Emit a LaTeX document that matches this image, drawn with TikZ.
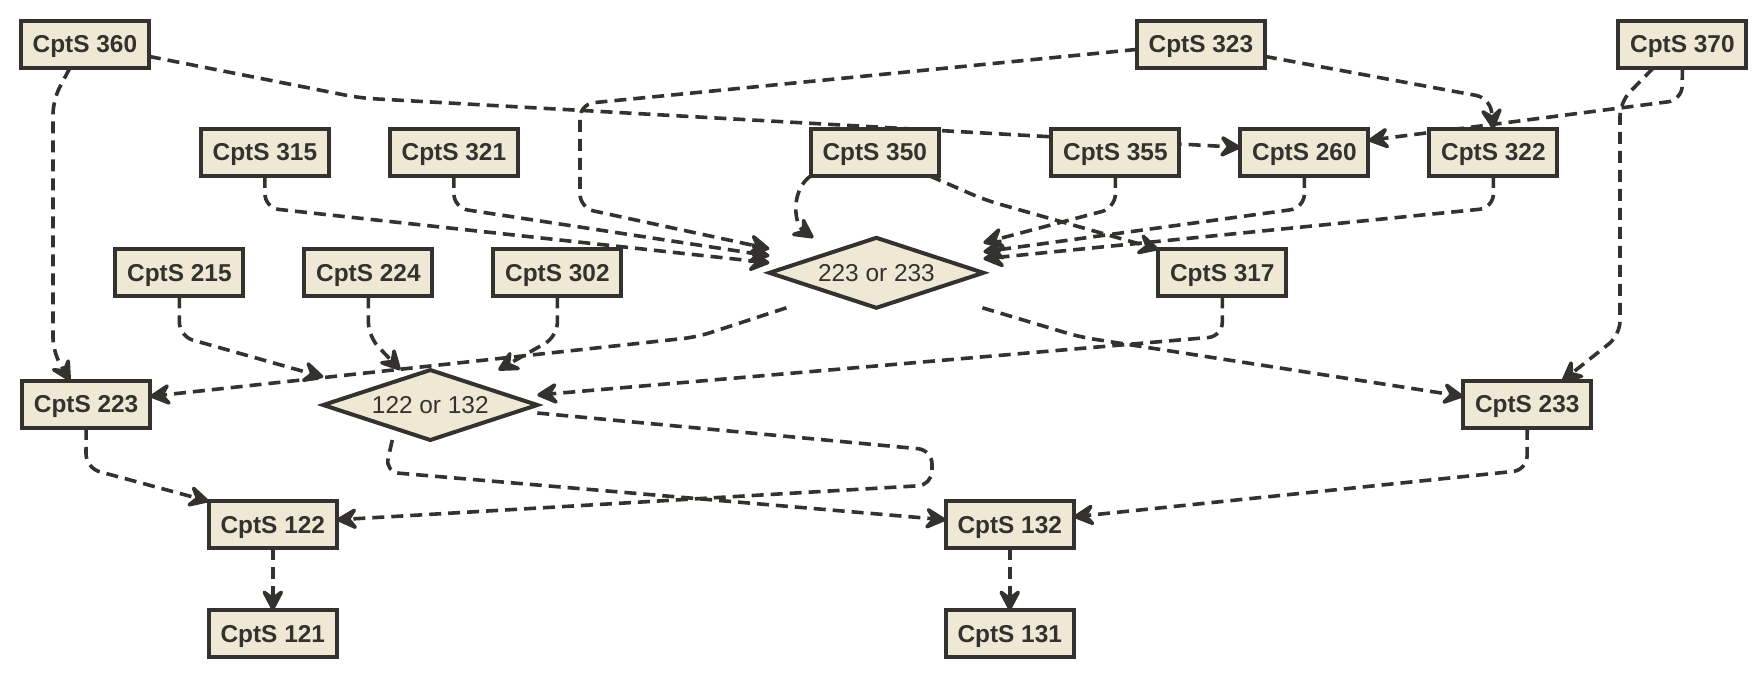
\documentclass[tikz,border=0pt]{standalone}
\usepackage{fontspec}
\setmainfont{Liberation Sans}
\usetikzlibrary{positioning,shapes.geometric,arrows.meta,backgrounds,calc}
\definecolor{ink}{HTML}{33322E}
\definecolor{parch}{HTML}{EEE8D5}
\tikzset{
  % course box
  course/.style = {rectangle, draw=ink, line width=2pt, fill=parch, text=ink,
                   minimum width=64pt, minimum height=23.5pt, inner sep=0pt, outer sep=0pt,
                   text depth=0pt, font=\fontsize{12.2}{14}\selectfont\bfseries},
  % either-or requirement
  choice/.style = {diamond, aspect=3, draw=ink, line width=2pt, fill=parch, text=ink,
                   minimum width=107pt, minimum height=35pt, inner sep=0pt, outer sep=0pt,
                   text depth=0pt, font=\fontsize{12.2}{14}\selectfont},
  % prerequisite link
  dep/.style    = {-{Stealth[length=13pt,width=13.5pt,inset=5pt,round]}, draw=ink,
                   line width=1.8pt, dash pattern=on 6pt off 3.5pt, rounded corners=7pt},
}
\begin{document}
\begin{tikzpicture}[x=0.5pt, y=-0.5pt, node distance=31pt and 30.5pt]
  \useasboundingbox (0,0) rectangle (1764,676);

  % top row
  \node[course] (c360) at (84.9,44.4)   {CptS 360};
  \node[course] (c323) at (1200.9,44.4) {CptS 323};
  \node[course] (c370) at (1682.4,44.4) {CptS 370};

  % second row
  \node[course] (c315) at (264.9,152.4) {CptS 315};
  \node[course, right=of c315] (c321) {CptS 321};
  \node[course] (c350) at (874.7,152.4) {CptS 350};
  \node[course] (c355) at (1115.4,152.4) {CptS 355};
  \node[course, right=of c355] (c260) {CptS 260};
  \node[course, right=of c260] (c322) {CptS 322};

  % third row
  \node[course] (c215) at (179.4,272.8) {CptS 215};
  \node[course, right=of c215] (c224) {CptS 224};
  \node[course, right=of c224] (c302) {CptS 302};
  \node[choice] (or223) at (876.4,272.8) {223 or 233};
  \node[course] (c317) at (1222.3,272.8) {CptS 317};

  % 200-level
  \node[course] (c223) at (86.1,404.4)  {CptS 223};
  \node[choice] (or122) at (430.3,405)  {122 or 132};
  \node[course] (c233) at (1527.2,404.4) {CptS 233};

  % 100-level
  \node[course] (c122) at (272.8,524.8)  {CptS 122};
  \node[course] (c132) at (1009.7,524.8) {CptS 132};
  \node[course, below=of c122] (c121) {CptS 121};
  \node[course, below=of c132] (c131) {CptS 131};

  % --- edges ---
  \begin{scope}[on background layer]
    % from the top row
    \draw[dep] ($(c360.south)+(-15,0)$) -- (53,100) -- (53,352) -- ($(c223.north)+(-16,0)$);
    \draw[dep] ($(c360.east)+(0,12)$) -- (360,98) -- ($(c260.west)+(0,-5)$);
    \draw[dep] ($(c323.west)+(0,5)$) -- (580,104) -- (580,208) -- ($(or223.west)+(0,-24)$);
    \draw[dep] ($(c323.east)+(0,12)$) -- (1490,98) -- (c322.north);
    \draw[dep] (c370.south) -- (1682,100) -- ($(c260.east)+(0,-12)$);
    \draw[dep] ($(c370.south)+(-29,0)$) -- (1620,102) -- (1620,335) -- ($(c233.north)+(35,0)$);

    % into 223 or 233
    \foreach \src/\dy in {c315/-10, c321/-17}
      \draw[dep] (\src.south) -- ++(0,32) -- ($(or223.west)+(0,\dy)$);
    \foreach \src/\dy in {c355/-30, c260/-21, c322/-14}
      \draw[dep] (\src.south) -- ++(0,32) -- ($(or223.east)+(0,\dy)$);
    \draw[dep] (c350.south west) to[out=215, in=145] ($(or223.north)+(-63,0)$);
    \draw[dep] ($(c350.south)+(55,0)$) -- (985,200) -- (c317.north west);

    % out of 223 or 233
    \draw[dep] ($(or223.south)+(-90,0)$) -- (697,337) -- ($(c223.east)+(0,-8)$);
    \draw[dep] ($(or223.south)+(106,0)$) -- (1080,337) -- ($(c233.west)+(0,-8)$);

    % into 122 or 132
    \foreach \src/\dx/\dy in {c215/-107/7, c224/-30/0, c302/68/0}
      \draw[dep] (\src.south) -- ++(0,40) -- ($(or122.north)+(\dx,\dy)$);
    \draw[dep] (c317.south) -- ++(0,40) -- ($(or122.east)+(0,-10)$);

    % out of 122 or 132
    \draw[dep] ($(or122.east)+(0,8)$) -- (932,450) -- (932,485) -- ($(c122.east)+(0,-5)$);
    \draw[dep] ($(or122.south)+(-38,0)$) -- (385,472) -- ($(c132.west)+(0,-5)$);

    % down to the 100-level
    \draw[dep] (c223.south) -- (86,468) -- (c122.north west);
    \draw[dep] (c233.south) -- (1527,470) -- ($(c132.east)+(0,-8)$);
    \draw[dep] (c122) -- (c121);
    \draw[dep] (c132) -- (c131);
  \end{scope}

\end{tikzpicture}
\end{document}
